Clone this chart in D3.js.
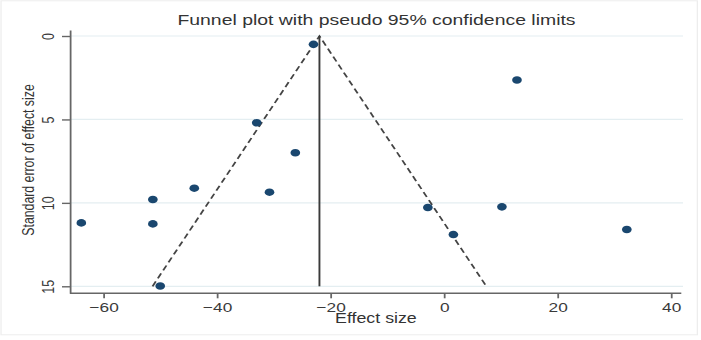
<!DOCTYPE html>
<html>
<head>
<meta charset="utf-8">
<script src="https://cdn.jsdelivr.net/npm/d3@7"></script>
<style>
  html, body { margin: 0; padding: 0; background: #fff; }
  svg { display: block; font-family: "Liberation Sans", Arial, sans-serif; }
</style>
</head>
<body>
<div id="viz"></div>
<script>
// studies: effect size and its standard error
const effectSize = [-23.0, -33.0, -26.2, 12.85, -63.9, -51.3, -51.3, -44.0, -30.75, -50.0, -2.85, 10.2, 1.65, 32.2];
const stdError   = [0.5, 5.2, 7.0, 2.64, 11.2, 9.8, 11.26, 9.12, 9.36, 14.98, 10.28, 10.24, 11.9, 11.6];

// pooled estimate and pseudo 95% limits
const pooled = -21.95;
const funnelX = [-51.35, -21.95, 7.45];
const funnelY = [15, 0, 15];

const xTickValues = [-60, -40, -20, 0, 20, 40];
const yTickValues = [0, 5, 10, 15];

const titleText = 'Funnel plot with pseudo 95% confidence limits';
const xLabel = 'Effect size';
const yLabel = 'Standard error of effect size';

// the picture is stretched sideways, so draw narrow and let the viewBox widen it
const stretch = 1.27;
const canvasWidth = 701;
const canvasHeight = 340;
const innerWidth = canvasWidth / stretch;

const plot = { left: 55.1, right: 537.8, top: 30, bottom: 293.3 };

const xScale = d3.scaleLinear()
                 .domain([-65.9, 42.1])
                 .range([plot.left, plot.right]);

const yScale = d3.scaleLinear()
                 .domain([-0.36, 15.42])
                 .range([plot.top, plot.bottom]);

const chart = d3.select('#viz')
                .append('svg')
                .attr('width', canvasWidth)
                .attr('height', canvasHeight)
                .attr('viewBox', `0 0 ${innerWidth} ${canvasHeight}`)
                .attr('preserveAspectRatio', 'none');

// faint frame
chart.append('rect')
     .attr('x', 0.8).attr('y', 0.8)
     .attr('width', 548.3).attr('height', 334)
     .attr('fill', 'none')
     .attr('stroke', '#ededed');

// gridlines
chart.append('g')
     .selectAll('line').data(yTickValues)
     .enter().append('line')
       .attr('x1', plot.left)
       .attr('x2', plot.right)
       .attr('y1', (d) => yScale(d))
       .attr('y2', (d) => yScale(d))
       .attr('stroke', '#e4eef1')
       .attr('stroke-width', 1.2);

// axes
const xAxis = chart.append('g')
                   .attr('transform', `translate(0, ${plot.bottom})`)
                   .call(d3.axisBottom(xScale)
                           .tickValues(xTickValues)
                           .tickFormat(d3.format('d'))
                           .tickSize(5)
                           .tickSizeOuter(0)
                           .tickPadding(3.8));

xAxis.select('.domain').attr('d', `M${plot.left},0H${xScale(41.8)}`);

const yAxis = chart.append('g')
                   .attr('transform', `translate(${plot.left}, 0)`)
                   .call(d3.axisLeft(yScale)
                           .tickValues(yTickValues)
                           .tickSize(6.3)
                           .tickSizeOuter(0));

yAxis.selectAll('.tick text')
     .attr('x', null)
     .attr('dy', null)
     .attr('text-anchor', 'middle')
     .attr('transform', `translate(${42.3 - plot.left}, 0) rotate(-90)`)
     .style('font-size', '12.5px');

[xAxis, yAxis].forEach((ax) => {
  ax.attr('font-family', null).attr('font-size', null);
  ax.selectAll('.domain, .tick line').attr('stroke', '#666').attr('stroke-width', 1.4);
  ax.selectAll('.tick text').attr('fill', '#3a3a3a');
});
xAxis.selectAll('.tick text').style('font-size', '13.6px');

// pseudo confidence limits
const line = d3.line()
               .x((d) => xScale(d[0]))
               .y((d) => yScale(d[1]));

chart.append('path')
     .datum(d3.zip(funnelX, funnelY))
     .attr('d', line)
     .attr('fill', 'none')
     .attr('stroke', '#444')
     .attr('stroke-width', 1.5)
     .attr('stroke-dasharray', '5.5,3.5');

chart.append('line')
     .attr('x1', xScale(pooled)).attr('x2', xScale(pooled))
     .attr('y1', yScale(0)).attr('y2', yScale(15))
     .attr('stroke', '#3a3a3a')
     .attr('stroke-width', 1.5);

// studies
chart.append('g')
     .selectAll('circle').data(d3.zip(effectSize, stdError))
     .enter().append('circle')
       .attr('cx', (d) => xScale(d[0]))
       .attr('cy', (d) => yScale(d[1]))
       .attr('r', 3.8)
       .attr('fill', '#1a476f');

// text
chart.append('text')
     .attr('x', (plot.left + plot.right) / 2)
     .attr('y', 25)
     .attr('text-anchor', 'middle')
     .attr('fill', '#333')
     .style('font-size', '15.3px')
     .text(titleText);

chart.append('text')
     .attr('x', 296)
     .attr('y', 323.3)
     .attr('text-anchor', 'middle')
     .attr('fill', '#333')
     .style('font-size', '14px')
     .text(xLabel);

chart.append('text')
     .attr('transform', 'translate(26.4, 160) rotate(-90)')
     .attr('text-anchor', 'middle')
     .attr('fill', '#333')
     .style('font-size', '12.3px')
     .text(yLabel);
</script>
</body>
</html>
